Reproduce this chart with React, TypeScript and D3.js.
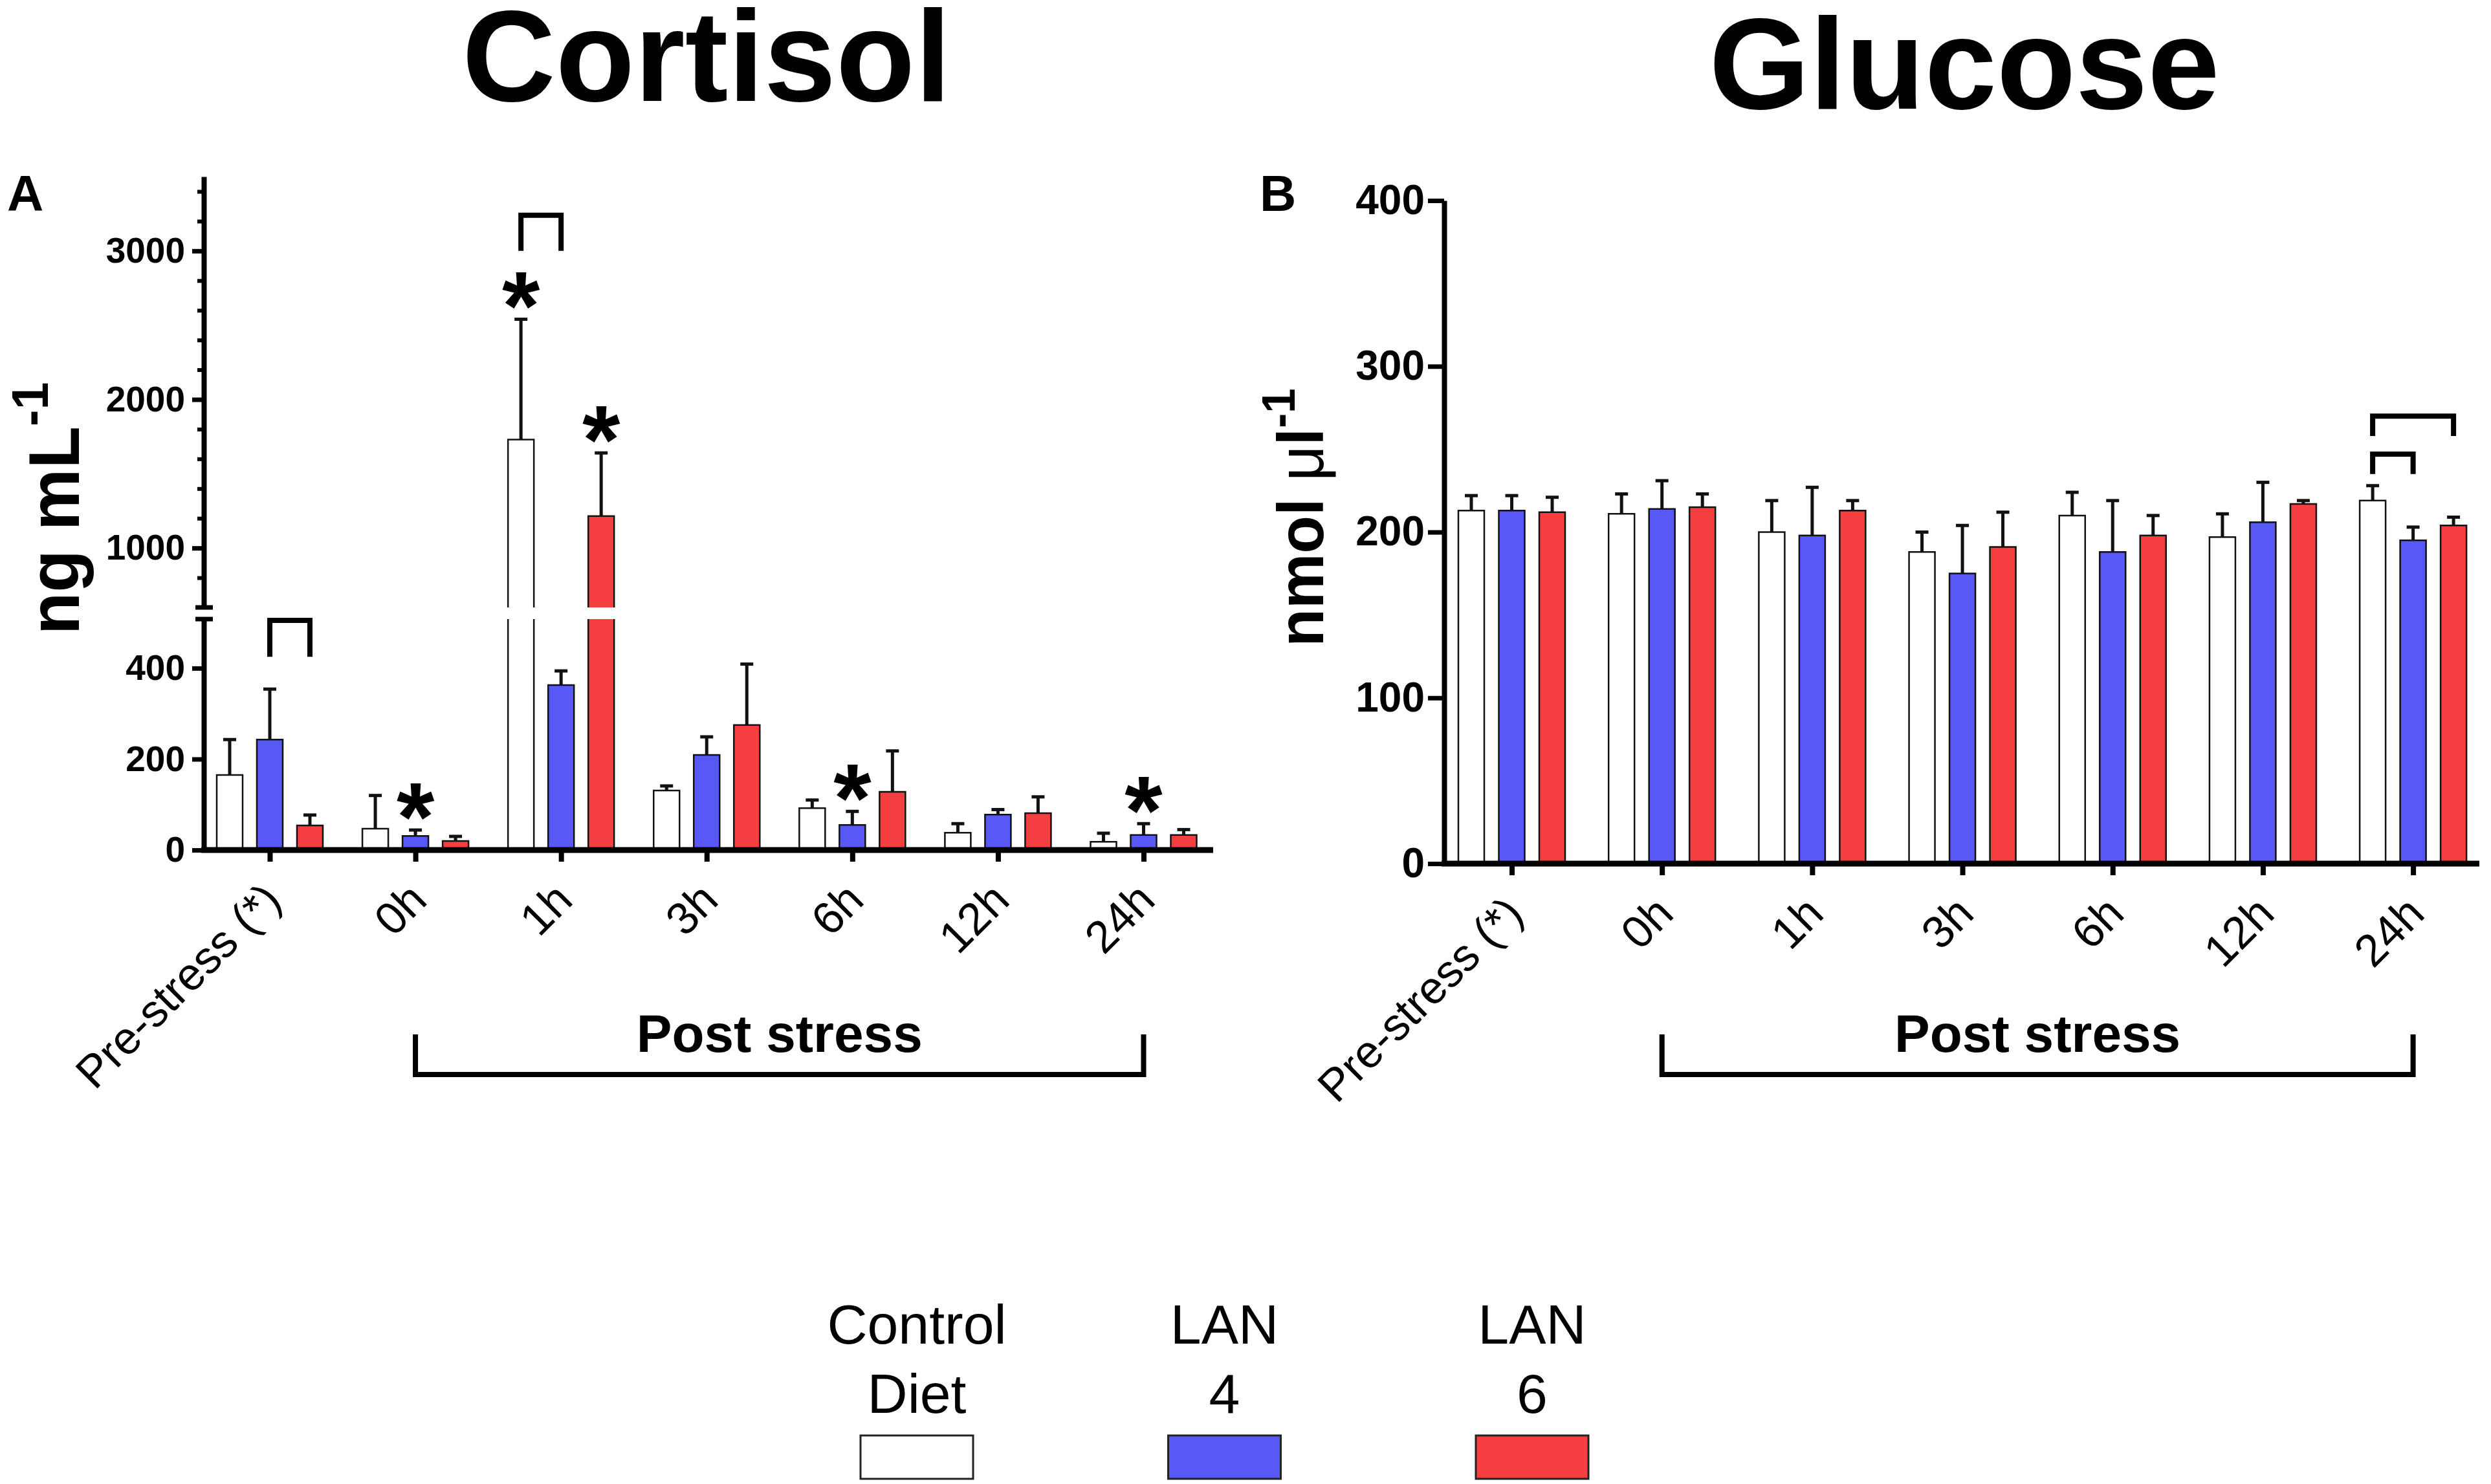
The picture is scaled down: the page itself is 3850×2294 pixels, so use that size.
import { useEffect, useRef } from "react";
import * as d3 from "d3";

const W = 3850;
const H = 2294;
const FONT = "'Liberation Sans', Arial, Helvetica, sans-serif";

const categories = ["Pre-stress (*)", "0h", "1h", "3h", "6h", "12h", "24h"];
const groups = ["Control Diet", "LAN 4", "LAN 6"];
const legendLines = [["Control", "Diet"], ["LAN", "4"], ["LAN", "6"]];
const fills = ["#ffffff", "#5858f7", "#f53e3f"];

// Cortisol (ng mL-1), mean and SEM per group
const cortisolControl = [165, 47, 1730, 131, 92, 38, 18];
const cortisolLan4 = [243, 31, 363, 209, 55, 78, 33];
const cortisolLan6 = [54, 20, 1215, 275, 128, 81, 33];
const cortisolControlSem = [78, 73, 810, 10, 18, 20, 19];
const cortisolLan4Sem = [111, 13, 31, 40, 30, 11, 25];
const cortisolLan6Sem = [23, 10, 425, 134, 90, 36, 12];

// Glucose (nmol ul-1), mean and SEM per group
const glucoseControl = [213, 211, 200, 188, 210, 197, 219];
const glucoseLan4 = [213, 214, 198, 175, 188, 206, 195];
const glucoseLan6 = [212, 215, 213, 191, 198, 217, 204];
const glucoseControlSem = [9, 12, 19, 12, 14, 14, 9];
const glucoseLan4Sem = [9, 17, 29, 29, 31, 24, 8];
const glucoseLan6Sem = [9, 8, 6, 21, 12, 2, 5];

// significance marks: [category, group index]
const cortisolStars: [string, number][] = [["0h", 1], ["1h", 0], ["1h", 2], ["6h", 1], ["24h", 1]];
// brackets: [category, from group, to group, top value, foot value]
const cortisolBrackets: [string, number, number, number, number][] = [
  ["Pre-stress (*)", 1, 2, 505, 425],
  ["1h", 0, 1, 3240, 3000],
];
const glucoseBrackets: [string, number, number, number, number][] = [
  ["24h", 0, 2, 270, 258],
  ["24h", 0, 1, 247, 235],
];

const cortisolLowTicks = [0, 200, 400];
const cortisolHighTicks = [1000, 2000, 3000];
const cortisolMinorTicks = d3.range(800, 3500, 200).filter((v) => v % 1000 !== 0);
const glucoseTicks = [0, 100, 200, 300, 400];

type Seg = [number, number, boolean, boolean];
type G = d3.Selection<SVGGElement, unknown, null, undefined>;

function outline(x0: number, x1: number, yb: number, yt: number, bottom: boolean, top: boolean) {
  let p = `M${x0},${yb}L${x0},${yt}`;
  p += top ? `L${x1},${yt}` : `M${x1},${yt}`;
  p += `L${x1},${yb}`;
  if (bottom) p += `L${x0},${yb}`;
  return p;
}

function drawBars(
  g: G,
  means: number[][],
  sems: number[][],
  x: d3.ScalePoint<string>,
  inner: d3.ScaleBand<string>,
  y: (v: number) => number,
  segments: (v: number) => Seg[]
) {
  const bw = inner.bandwidth();
  means.forEach((vals, s) => {
    vals.forEach((v, i) => {
      const cx = (x(categories[i]) as number) + (inner(groups[s]) as number) + bw / 2;
      const x0 = cx - bw / 2;
      const x1 = cx + bw / 2;
      segments(v).forEach(([yb, yt, bottom, top]) => {
        g.append("rect")
          .attr("x", x0).attr("y", yt)
          .attr("width", bw).attr("height", yb - yt)
          .attr("fill", fills[s]);
        g.append("path")
          .attr("d", outline(x0, x1, yb, yt, bottom, top))
          .attr("fill", "none").attr("stroke", "#111").attr("stroke-width", 2.5);
      });
      const yTop = y(v + sems[s][i]);
      g.append("line")
        .attr("x1", cx).attr("x2", cx)
        .attr("y1", y(v)).attr("y2", yTop)
        .attr("stroke", "#111").attr("stroke-width", 5);
      g.append("line")
        .attr("x1", cx - 10).attr("x2", cx + 10)
        .attr("y1", yTop).attr("y2", yTop)
        .attr("stroke", "#111").attr("stroke-width", 5);
    });
  });
}

function barCenter(x: d3.ScalePoint<string>, inner: d3.ScaleBand<string>, cat: string, s: number) {
  return (x(cat) as number) + (inner(groups[s]) as number) + inner.bandwidth() / 2;
}

function drawBrackets(
  g: G,
  list: [string, number, number, number, number][],
  x: d3.ScalePoint<string>,
  inner: d3.ScaleBand<string>,
  y: (v: number) => number
) {
  list.forEach(([cat, a, b, top, foot]) => {
    const xa = barCenter(x, inner, cat, a);
    const xb = barCenter(x, inner, cat, b);
    g.append("path")
      .attr("d", `M${xa},${y(foot)}L${xa},${y(top)}L${xb},${y(top)}L${xb},${y(foot)}`)
      .attr("fill", "none").attr("stroke", "#000").attr("stroke-width", 8);
  });
}

function drawXAxis(g: G, x: d3.ScalePoint<string>, axisY: number, left: number, right: number) {
  g.append("line")
    .attr("x1", left).attr("x2", right)
    .attr("y1", axisY).attr("y2", axisY)
    .attr("stroke", "#000").attr("stroke-width", 9);
  const ax = g.append("g")
    .attr("transform", `translate(0,${axisY})`)
    .call(d3.axisBottom(x).tickSize(18).tickFormat(() => ""));
  ax.select(".domain").remove();
  ax.selectAll(".tick line").attr("stroke", "#000").attr("stroke-width", 8);

  categories.forEach((c) => {
    g.append("text")
      .attr("transform", `translate(${(x(c) as number) + 21},${axisY + 81}) rotate(-45)`)
      .attr("text-anchor", "end")
      .attr("font-family", FONT)
      .attr("font-size", 70)
      .text(c);
  });

  // Post stress bracket
  const x0 = x("0h") as number;
  const x1 = x("24h") as number;
  g.append("path")
    .attr("d", `M${x0},1599L${x0},1661L${x1},1661L${x1},1599`)
    .attr("fill", "none").attr("stroke", "#000").attr("stroke-width", 8);
  g.append("text")
    .attr("x", (x0 + x1) / 2).attr("y", 1626)
    .attr("text-anchor", "middle")
    .attr("font-family", FONT).attr("font-weight", "bold").attr("font-size", 82)
    .text("Post stress");
}

function styleAxis(ax: G, fontSize: number) {
  ax.attr("font-family", FONT).attr("font-weight", "bold").attr("font-size", fontSize);
  ax.select(".domain").attr("stroke", "#000").attr("stroke-width", 8);
  ax.selectAll(".tick line").attr("stroke", "#000").attr("stroke-width", 7);
  ax.selectAll(".tick text").attr("fill", "#000");
}

export default function App() {
  const svgRef = useRef<SVGSVGElement>(null);

  useEffect(() => {
    if (!svgRef.current) return;
    const svg = d3.select(svgRef.current);
    svg.selectAll("*").remove();
    const root = svg.append("g") as unknown as G;
    const plain = d3.format("d");

    // ---------- Panel A: Cortisol ----------
    const xA = d3.scalePoint<string>().domain(categories).range([417, 1767.5]);
    const innerA = d3.scaleBand<string>().domain(groups).range([-82, 82]).paddingInner(0.355).paddingOuter(0);
    const yLow = d3.scaleLinear().domain([0, 508]).range([1314, 957]);
    const yHigh = d3.scaleLinear().domain([600, 3500]).range([939, 273]);
    const yA = (v: number) => (v <= 508 ? yLow(v) : yHigh(v));
    const segA = (v: number): Seg[] =>
      v <= 508
        ? [[yLow(0), yLow(v), true, true]]
        : [[yLow(0), yLow(508), true, false], [yHigh(600), yHigh(v), false, true]];

    const gA = root.append("g");
    const meansA = [cortisolControl, cortisolLan4, cortisolLan6];
    const semsA = [cortisolControlSem, cortisolLan4Sem, cortisolLan6Sem];
    drawBars(gA, meansA, semsA, xA, innerA, yA, segA);
    cortisolStars.forEach(([cat, s]) => {
      const i = categories.indexOf(cat);
      const top = yA(meansA[s][i] + semsA[s][i]);
      gA.append("text")
        .attr("x", barCenter(xA, innerA, cat, s))
        .attr("y", top - 52 + 84)
        .attr("text-anchor", "middle")
        .attr("font-family", FONT).attr("font-weight", "bold").attr("font-size", 150)
        .text("*");
    });
    drawBrackets(gA, cortisolBrackets, xA, innerA, yA);

    const upper = gA.append("g").attr("transform", "translate(315,0)")
      .call(d3.axisLeft(yHigh).tickValues(cortisolHighTicks).tickFormat((d) => plain(d as number))
        .tickSize(18).tickSizeOuter(0).tickPadding(11));
    styleAxis(upper as unknown as G, 55);
    const minor = gA.append("g").attr("transform", "translate(315,0)")
      .call(d3.axisLeft(yHigh).tickValues(cortisolMinorTicks).tickSize(10).tickFormat(() => ""));
    minor.select(".domain").remove();
    minor.selectAll(".tick line").attr("stroke", "#000").attr("stroke-width", 6);
    const lower = gA.append("g").attr("transform", "translate(315,0)")
      .call(d3.axisLeft(yLow).tickValues(cortisolLowTicks).tickFormat((d) => plain(d as number))
        .tickSize(18).tickSizeOuter(0).tickPadding(11));
    styleAxis(lower as unknown as G, 55);
    [yHigh(600), yLow(508)].forEach((yy) => {
      gA.append("line")
        .attr("x1", 302).attr("x2", 329).attr("y1", yy).attr("y2", yy)
        .attr("stroke", "#000").attr("stroke-width", 7);
    });
    drawXAxis(gA, xA, 1314, 311, 1875);

    gA.append("text")
      .attr("transform", "translate(122,786) rotate(-90) scale(0.96,1)")
      .attr("text-anchor", "middle")
      .attr("font-family", FONT).attr("font-weight", "bold").attr("font-size", 112)
      .call((t) => {
        t.append("tspan").text("ng mL");
        t.append("tspan").attr("font-size", 80).attr("dy", -48).text("-1");
      });

    // ---------- Panel B: Glucose ----------
    const xB = d3.scalePoint<string>().domain(categories).range([2336.5, 3729.6]);
    const innerB = d3.scaleBand<string>().domain(groups).range([-82.5, 82.5]).paddingInner(0.36).paddingOuter(0);
    const yB = d3.scaleLinear().domain([0, 400]).range([1335, 310]);
    const segB = (v: number): Seg[] => [[yB(0), yB(v), true, true]];

    const gB = root.append("g");
    drawBars(
      gB,
      [glucoseControl, glucoseLan4, glucoseLan6],
      [glucoseControlSem, glucoseLan4Sem, glucoseLan6Sem],
      xB, innerB, yB, segB
    );
    drawBrackets(gB, glucoseBrackets, xB, innerB, yB);
    const axB = gB.append("g").attr("transform", "translate(2232,0)")
      .call(d3.axisLeft(yB).tickValues(glucoseTicks).tickSize(25).tickSizeOuter(0).tickPadding(5));
    styleAxis(axB as unknown as G, 64);
    drawXAxis(gB, xB, 1335, 2228, 3832);

    gB.append("text")
      .attr("transform", "translate(2045,800) rotate(-90) scale(0.96,1)")
      .attr("text-anchor", "middle")
      .attr("font-family", FONT).attr("font-weight", "bold").attr("font-size", 100)
      .call((t) => {
        t.append("tspan").text("nmol ");
        t.append("tspan").attr("font-weight", "normal").text("\u03bc");
        t.append("tspan").text("l");
        t.append("tspan").attr("font-size", 72).attr("dy", -44).text("-1");
      });

    // ---------- Titles and panel letters ----------
    const titles: [string, number, number][] = [["Cortisol", 1092, 156], ["Glucose", 3036, 168]];
    titles.forEach(([t, x, y]) => {
      root.append("text")
        .attr("x", x).attr("y", y)
        .attr("text-anchor", "middle")
        .attr("font-family", FONT).attr("font-weight", "bold").attr("font-size", 200)
        .text(t);
    });
    const letters: [string, number][] = [["A", 11], ["B", 1947]];
    letters.forEach(([t, x]) => {
      root.append("text")
        .attr("x", x).attr("y", 326)
        .attr("font-family", FONT).attr("font-weight", "bold").attr("font-size", 78)
        .text(t);
    });

    // ---------- Legend ----------
    const lx = d3.scalePoint<string>().domain(groups).range([1417, 2368]);
    groups.forEach((grp, s) => {
      const cx = lx(grp) as number;
      legendLines[s].forEach((line, k) => {
        root.append("text")
          .attr("x", cx).attr("y", 2077 + k * 107)
          .attr("text-anchor", "middle")
          .attr("font-family", FONT).attr("font-size", 86)
          .text(line);
      });
      root.append("rect")
        .attr("x", cx - 87).attr("y", 2219)
        .attr("width", 174).attr("height", 67)
        .attr("fill", fills[s])
        .attr("stroke", "#222").attr("stroke-width", 3);
    });
  }, []);

  return (
    <div>
      <style>{"body{margin:0}"}</style>
      <svg ref={svgRef} width={W} height={H} viewBox={`0 0 ${W} ${H}`} style={{ display: "block", background: "#fff" }} />
    </div>
  );
}
